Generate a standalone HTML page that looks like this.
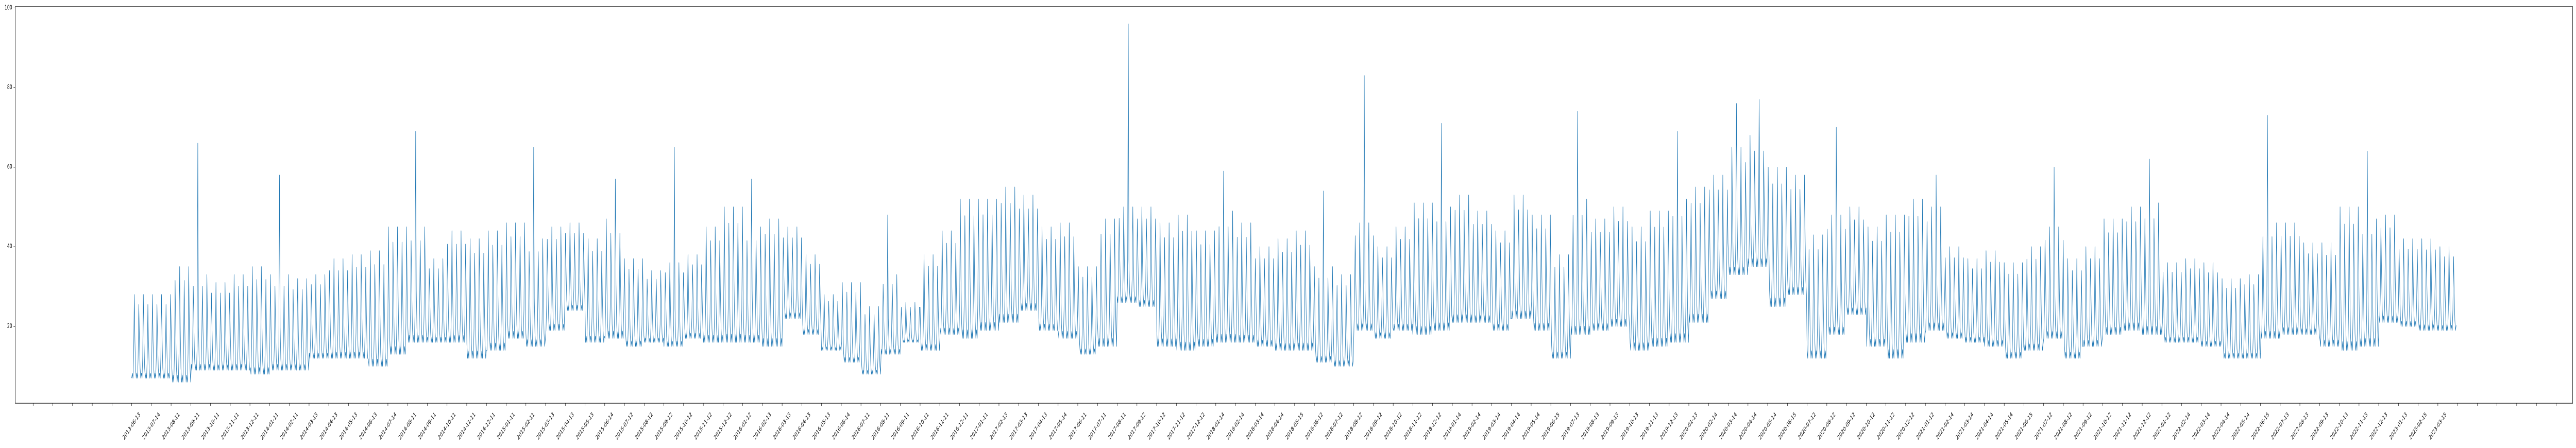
<!DOCTYPE html>
<html><head><meta charset="utf-8"><title>Daily series chart</title>
<style>
html,body{margin:0;padding:0;background:#fff;width:100%;height:100%;overflow:hidden;}
svg{display:block;position:absolute;left:0;top:0;width:100%;height:100%;font-family:"DejaVu Sans","Liberation Sans",sans-serif;}
</style></head>
<body>
<svg id="chart" viewBox="0 0 7806 870" preserveAspectRatio="none" xmlns="http://www.w3.org/2000/svg">
<rect x="0" y="0" width="7806" height="870" fill="#fff"/>
<g id="yaxis"></g>
<g id="xaxis"></g>
<path id="series" fill="none" stroke="#1f77b4" stroke-width="1.3" stroke-linejoin="round"/>
<rect x="46" y="13" width="7750" height="770" fill="none" stroke="#000" stroke-width="1.2"/>
</svg>
<script>
// ---- data (monthly envelope) ----
const startYear = 2013;
const startMonth = 6;
const tickDays = [13,14,11,11,11,11,11,11,11,13,13,13,13,14,11,11,11,11,11,11,11,13,13,13,
14,12,12,12,12,12,12,12,13,13,13,13,14,11,11,11,11,11,11,11,13,13,13,
14,11,11,11,12,12,12,12,14,14,14,14,15,12,12,12,12,12,12,12,14,14,14,14,
14,15,13,13,13,13,13,13,13,14,14,14,14,15,12,12,12,12,12,12,12,14,14,14,
14,15,12,12,12,12,12,12,12,14,14,14,14,15,13,13,13,13,13,13,13,15,15];
const monthHigh = [28,28,35,33,31,33,35,33,32,33,37,38,39,45,45,37,44,42,44,46,42,45,46,42,
47,37,34,36,38,45,50,45,47,45,38,28,31,25,33,26,38,44,52,52,55,53,45,
46,35,47,50,50,46,48,44,49,46,40,42,44,35,33,46,40,45,51,50,53,49,44,53,
48,38,52,47,50,45,49,52,55,58,65,68,60,58,43,48,50,45,48,52,50,40,37,39,
36,40,45,37,40,47,50,51,36,37,36,32,33,46,46,41,41,50,47,48,42,42,40];
const monthLow = [7,7,6,9,9,9,8,9,9,12,12,12,10,13,16,16,16,12,14,17,15,19,24,16,
17,15,16,15,17,16,16,16,15,22,18,14,11,8,13,16,14,18,17,19,21,24,19,
17,13,15,26,25,15,14,15,16,16,15,14,14,11,10,19,17,19,18,19,21,21,19,22,
19,12,18,19,20,14,15,16,21,27,33,35,25,28,12,18,23,15,12,16,19,17,16,15,
12,14,17,12,15,18,19,18,16,16,15,12,12,17,18,18,15,14,15,21,20,19,19];
const spikeMonths = [3,7,14,20,24,27,31,38,50,55,60,62,66,73,78,81,82,86,91,97,102,108,113];
const spikeValues = [66,58,69,65,57,65,57,48,96,59,54,83,71,74,69,76,77,70,58,60,62,73,64];
const yTicks = [20,40,60,80,100];

// ---- scales ----
const X0 = 399, PX_PER_MONTH = 59.73;
function xScale(m){ return X0 + m*PX_PER_MONTH; }
function yScale(v){ return 788.4 - v*7.729; }
const NS = "http://www.w3.org/2000/svg";
function mk(tag, attrs){ const e=document.createElementNS(NS,tag); for(const k in attrs) e.setAttribute(k,attrs[k]); return e; }

// ---- y axis ----
const yaxis=document.getElementById('yaxis');
yTicks.forEach(v=>{
  const y=yScale(v);
  const t=mk('line',{x1:41,x2:46,y1:y,y2:y,stroke:'#000','stroke-width':1});
  
  
  yaxis.appendChild(t);
  const l=mk('text',{x:37,y:y,'text-anchor':'end','dominant-baseline':'central','font-size':12,fill:'#000'});
  
  
  l.textContent=String(v);
  yaxis.appendChild(l);
});

// ---- x axis ----
const xaxis=document.getElementById('xaxis');
const nMonths = monthHigh.length;
for(let i=-5;i<nMonths+6;i++){
  const x=xScale(i);
  const t=mk('line',{x1:x,x2:x,y1:783,y2:788,stroke:'#000','stroke-width':1});
  
  
  xaxis.appendChild(t);
  if(i>=0 && i<tickDays.length){
    const mm=startMonth-1+i, yr=startYear+Math.floor(mm/12), mo=mm%12+1;
    const txt=yr+'-'+String(mo).padStart(2,'0')+'-'+String(tickDays[i]).padStart(2,'0');
    const cy=828;
    const l=mk('text',{x:x,y:cy,'text-anchor':'middle','dominant-baseline':'central','font-size':12,fill:'#000',transform:'rotate(-45 '+x+' '+cy+')'});
    
    
    l.textContent=txt;
    xaxis.appendChild(l);
  }
}

// ---- series: each month expanded to weekly cycles between its low and high ----
const endMonth = 117.93;
const DPM = 30.4;
const nDays = Math.round(endMonth*DPM);
let d='';
const spikeUsed={};
for(let k=0;k<=nDays;k++){
  const m=Math.min(nMonths-1,Math.floor(k/DPM));
  const hi=monthHigh[m], lo=monthLow[m], r=hi-lo;
  const wd=k%7, wk=Math.floor(k/7);
  const peak = (wk%2===0) ? hi : lo + 0.88*r;
  let v;
  if(wd===4) v=peak;
  else if(wd===5) v=lo+0.45*r;
  else if(wd===3) v=lo+0.25*r;
  else if(wd===6) v=lo+0.12*r;
  else if(wd===1) v=lo+0.06*r;
  else v=lo;
  const si=spikeMonths.indexOf(m);
  if(si>=0 && wd===4 && !spikeUsed[m] && (k/DPM - m) > 0.35){ v=spikeValues[si]; spikeUsed[m]=true; }
  const x=xScale(k/DPM), y=yScale(v);
  d+=(k?'L':'M')+x.toFixed(1)+' '+y.toFixed(1);
}
document.getElementById('series').setAttribute('d',d);
</script>
</body></html>
